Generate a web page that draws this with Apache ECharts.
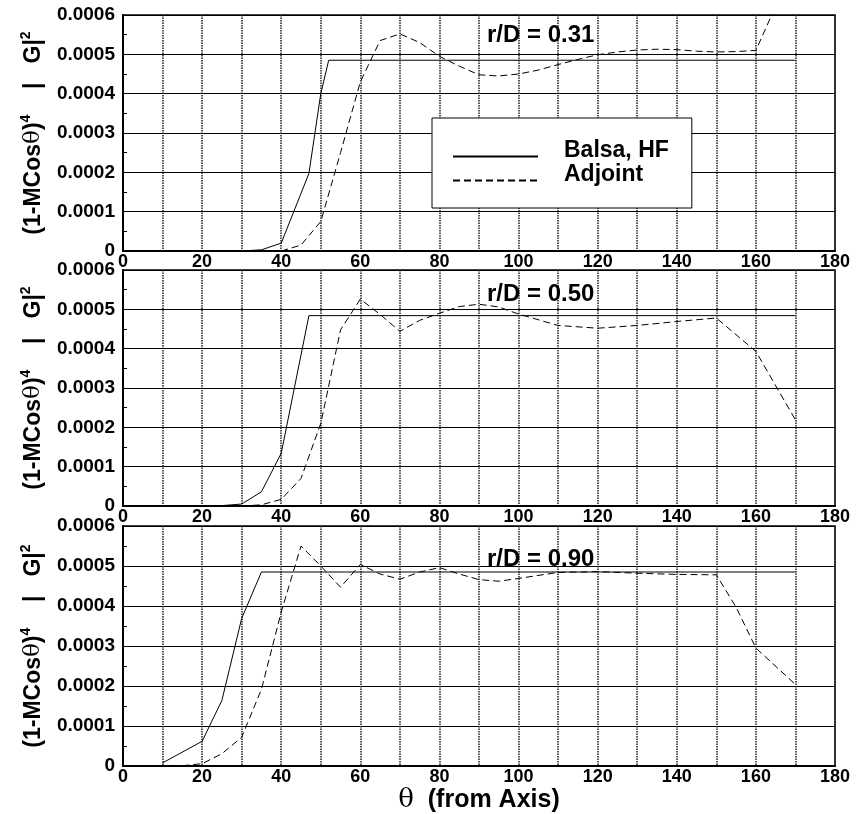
<!DOCTYPE html>
<html>
<head>
<meta charset="utf-8">
<script src="https://cdn.jsdelivr.net/npm/echarts@6/dist/echarts.min.js"></script>
<style>
  html, body { margin: 0; padding: 0; background: #fff; }
  #chart { width: 856px; height: 814px; }
</style>
</head>
<body>
<div id="chart"></div>
<script>
// r/D = 0.31
const thetaBalsa31 = [20, 30, 35, 40, 47, 50, 52, 170]
const balsa31 = [0, 0, 0.000003, 0.00002, 0.000197, 0.0004, 0.000485, 0.000485]
const thetaAdj31 = [40, 45, 50, 55, 60, 65, 70, 75, 80, 85, 90, 95, 100, 105, 110, 115, 120, 125, 130, 135, 140, 145, 150, 155, 160, 170]
const adjoint31 = [0, 0.000015, 0.000075, 0.00025, 0.00043, 0.000535, 0.000552, 0.00053, 0.000495, 0.00047, 0.000448, 0.000445, 0.00045, 0.00046, 0.000474, 0.000487, 0.000499, 0.000506, 0.000511, 0.000513, 0.000512, 0.000508, 0.000506, 0.000507, 0.00051, 0.000735]

// r/D = 0.50
const thetaBalsa50 = [20, 25, 30, 35, 40, 47, 170]
const balsa50 = [0, 0.000001, 0.000005, 0.000036, 0.000134, 0.000484, 0.000484]
const thetaAdj50 = [30, 35, 40, 45, 50, 55, 60, 65, 70, 75, 80, 85, 90, 95, 100, 110, 120, 130, 140, 150, 160, 170]
const adjoint50 = [0, 0.000003, 0.000017, 0.00007, 0.00021, 0.000448, 0.000526, 0.000487, 0.000444, 0.000472, 0.00049, 0.000507, 0.000513, 0.000506, 0.000488, 0.000459, 0.000452, 0.000459, 0.000469, 0.000478, 0.000393, 0.000219]

// r/D = 0.90
const thetaBalsa90 = [10, 20, 25, 30, 35, 170]
const balsa90 = [0.000008, 0.000062, 0.000164, 0.000369, 0.000485, 0.000485]
const thetaAdj90 = [15, 20, 25, 30, 35, 40, 45, 50, 55, 60, 65, 70, 75, 80, 85, 90, 95, 100, 110, 120, 130, 140, 150, 155, 160, 170]
const adjoint90 = [0.000001, 0.000006, 0.000031, 0.000072, 0.000192, 0.000385, 0.00055, 0.0005, 0.000447, 0.000504, 0.00048, 0.000467, 0.000485, 0.000496, 0.00048, 0.000466, 0.000462, 0.000469, 0.000484, 0.000486, 0.000482, 0.000479, 0.000478, 0.000397, 0.000295, 0.000204]

const panelLabels = ['r/D = 0.31', 'r/D = 0.50', 'r/D = 0.90']
const xTicks = [0, 20, 40, 60, 80, 100, 120, 140, 160, 180]

const font = '"Liberation Sans", Arial, Helvetica, sans-serif'
const symbolFont = '"DejaVu Serif", "Liberation Serif", serif'

const panels = [
  { top: 15, height: 236, labelTop: 23 },
  { top: 270, height: 236, labelTop: 282 },
  { top: 526, height: 243, labelTop: 547 }
]

function pairs(xs, ys) {
  return xs.map((x, i) => [x, ys[i]])
}

const yName = '{b|(1-MCos}{t|θ}{b|)}{s|4}{b|    |   G|}{s|2}'

const chart = echarts.init(document.getElementById('chart'))

const option = {
  animation: false,
  backgroundColor: '#fff',
  textStyle: { fontFamily: font },
  title: panelLabels.map((t, i) => ({
    text: t,
    left: 487,
    top: panels[i].labelTop,
    padding: 0,
    textStyle: { fontSize: 24, fontWeight: 'bold', color: '#000', fontFamily: font }
  })),
  legend: {
    data: ['Balsa, HF', 'Adjoint'],
    orient: 'vertical',
    left: 432,
    top: 118,
    itemWidth: 85,
    itemHeight: 14,
    itemGap: -11,
    padding: [21, 23, 10, 20],
    backgroundColor: '#fff',
    borderColor: '#000',
    borderWidth: 1,
    selectedMode: false,
    itemStyle: { opacity: 0 },
    formatter: name => '{a|' + name + '}',
    textStyle: {
      fontSize: 23,
      fontWeight: 'bold',
      color: '#000',
      fontFamily: font,
      rich: {
        a: {
          fontSize: 23,
          fontWeight: 'bold',
          color: '#000',
          fontFamily: font,
          lineHeight: 25,
          padding: [0, 0, 12, 21]
        }
      }
    }
  },
  grid: panels.map(p => ({
    left: 123,
    right: 21,
    top: p.top,
    height: p.height,
    show: true,
    borderColor: '#000',
    borderWidth: 1.5,
    backgroundColor: 'transparent'
  })),
  xAxis: panels.map((p, i) => ({
    type: 'value',
    gridIndex: i,
    min: 0,
    max: 180,
    interval: 10,
    name: i === 2 ? '{t|θ}{b|  (from Axis)}' : '',
    nameLocation: 'middle',
    nameGap: 3,
    nameTextStyle: {
      rich: {
        t: { fontSize: 26, fontFamily: symbolFont, fontWeight: 'normal', color: '#000' },
        b: { fontSize: 25, fontFamily: font, fontWeight: 'bold', color: '#000' }
      }
    },
    axisLine: { show: true, lineStyle: { color: '#000', width: 2 } },
    axisTick: { show: false },
    axisLabel: {
      margin: 2,
      fontSize: 18,
      fontWeight: 'bold',
      color: '#000',
      fontFamily: font,
      formatter: v => (xTicks.indexOf(v) >= 0 ? String(v) : '')
    },
    splitLine: { show: true, lineStyle: { color: '#222', width: 1.5, type: [1.5, 1] } }
  })),
  yAxis: panels.map((p, i) => ({
    type: 'value',
    gridIndex: i,
    min: 0,
    max: 0.0006,
    interval: 0.0001,
    name: yName,
    nameLocation: 'middle',
    nameRotate: 90,
    nameGap: 78,
    nameTextStyle: {
      rich: {
        b: { fontSize: 23, fontFamily: font, fontWeight: 'bold', color: '#000', lineHeight: 26, verticalAlign: 'bottom' },
        t: { fontSize: 23, fontFamily: symbolFont, fontWeight: 'normal', color: '#000', lineHeight: 26, verticalAlign: 'bottom' },
        s: { fontSize: 14, fontFamily: font, fontWeight: 'bold', color: '#000', lineHeight: 26, verticalAlign: 'top' }
      }
    },
    axisLine: { show: true, lineStyle: { color: '#000', width: 2 } },
    axisTick: { show: true, inside: true, length: 4, lineStyle: { color: '#000' } },
    minorTick: { show: true, splitNumber: 2, length: 4, lineStyle: { color: '#000' } },
    axisLabel: {
      margin: 8,
      fontSize: 19,
      fontWeight: 'bold',
      color: '#000',
      fontFamily: font,
      formatter: v => (v === 0 ? '0' : v.toFixed(4))
    },
    splitLine: { show: true, lineStyle: { color: '#000', width: 1 } }
  })),
  series: [
    [thetaBalsa31, balsa31, thetaAdj31, adjoint31],
    [thetaBalsa50, balsa50, thetaAdj50, adjoint50],
    [thetaBalsa90, balsa90, thetaAdj90, adjoint90]
  ].flatMap((d, i) => [
    {
      name: 'Balsa, HF',
      type: 'line',
      xAxisIndex: i,
      yAxisIndex: i,
      symbol: 'none',
      color: '#000',
      lineStyle: { color: '#000', width: 1 },
      data: pairs(d[0], d[1])
    },
    {
      name: 'Adjoint',
      type: 'line',
      xAxisIndex: i,
      yAxisIndex: i,
      symbol: 'none',
      color: '#000',
      lineStyle: { color: '#000', width: 1, type: [7, 4] },
      data: pairs(d[2], d[3])
    }
  ])
}

chart.setOption(option)
</script>
</body>
</html>
